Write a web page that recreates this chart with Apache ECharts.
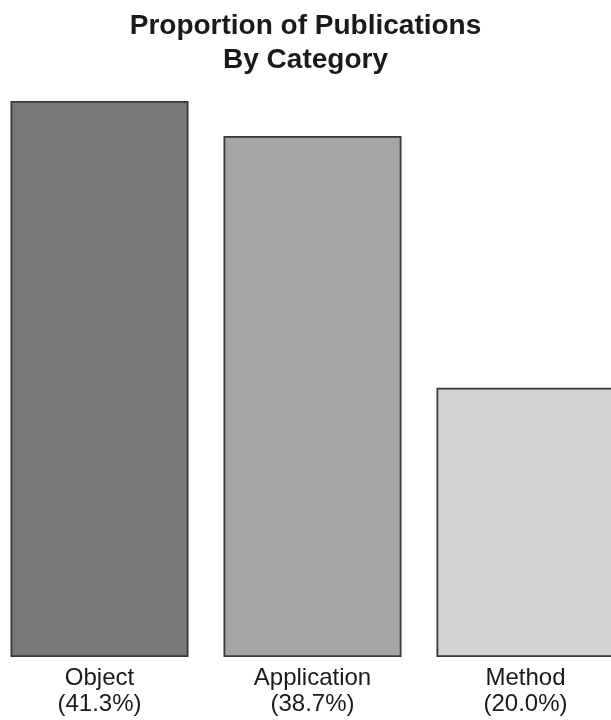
<!DOCTYPE html>
<html>
<head>
<meta charset="utf-8">
<title>Proportion of Publications By Category</title>
<script src="https://cdn.jsdelivr.net/npm/echarts@6/dist/echarts.min.js"></script>
<style>
  html, body { margin: 0; padding: 0; background: #ffffff; }
  #chart { width: 611px; height: 720px; }
</style>
</head>
<body>
<div id="chart"></div>
<script>
// Publication categories and their share of the total (%)
const categories = ['Object', 'Application', 'Method'];
const shares = [41.3, 38.7, 20.0];
const barColors = ['#7a797a', '#a6a5a6', '#d3d3d3'];

const chart = echarts.init(document.getElementById('chart'), null, { renderer: 'canvas' });

chart.setOption({
  animation: false,
  backgroundColor: '#ffffff',
  title: {
    text: 'Proportion of Publications\nBy Category',
    left: 'center',
    top: 4,
    textStyle: {
      fontFamily: 'Liberation Sans',
      fontSize: 28,
      fontWeight: 'bold',
      lineHeight: 34,
      color: '#1a1a1a'
    }
  },
  // the plot area runs past the right edge, so the last bar is clipped
  grid: {
    left: -7, width: 639, top: 101, bottom: 63,
    containLabel: false,
    outerBoundsMode: 'none'
  },
  xAxis: {
    type: 'category',
    data: categories,
    axisLine: { show: false },
    axisTick: { show: false },
    axisLabel: {
      margin: 8,
      interval: 0,
      fontFamily: 'Liberation Sans',
      fontSize: 24,
      lineHeight: 26,
      color: '#1a1a1a',
      formatter: function (name, idx) {
        return name + '\n(' + shares[idx].toFixed(1) + '%)';
      }
    }
  },
  yAxis: {
    type: 'value',
    min: 0,
    max: 41.3,
    show: false,
    splitLine: { show: false }
  },
  series: [{
    type: 'bar',
    data: shares.map(function (v, i) {
      return { value: v, itemStyle: { color: barColors[i] } };
    }),
    barWidth: 178,
    itemStyle: { borderColor: '#383838', borderWidth: 1.8 }
  }]
});
</script>
</body>
</html>
